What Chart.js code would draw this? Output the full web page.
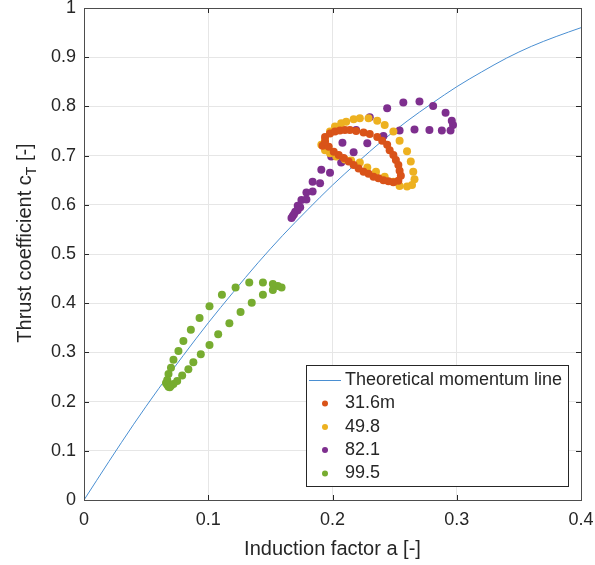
<!DOCTYPE html>
<html>
<head>
<meta charset="utf-8">
<script src="https://cdn.jsdelivr.net/npm/chart.js@4.4.0/dist/chart.umd.min.js"></script>
<style>
  html, body { margin: 0; padding: 0; background: #fff; }
</style>
</head>
<body>
<canvas id="chart" width="595" height="565"></canvas>
<script>
// Theoretical momentum line
const theoryA = [0, 0.02, 0.04, 0.06, 0.08, 0.1, 0.12, 0.14, 0.16, 0.18, 0.2, 0.22, 0.24, 0.26, 0.28, 0.3, 0.32, 0.34, 0.36, 0.38, 0.4];
const theoryCT = [0, 0.078, 0.154, 0.226, 0.294, 0.36, 0.422, 0.482, 0.538, 0.59, 0.64, 0.686, 0.73, 0.77, 0.806, 0.84, 0.87, 0.898, 0.922, 0.942, 0.96];

// 31.6m
const a316 = [0.192, 0.194, 0.198, 0.202, 0.206, 0.210, 0.214, 0.219, 0.225, 0.230, 0.236, 0.240, 0.244, 0.246, 0.249, 0.251, 0.253, 0.254, 0.255, 0.253, 0.249, 0.245, 0.241, 0.237, 0.233, 0.229, 0.225, 0.221, 0.217, 0.213, 0.209, 0.205, 0.201, 0.197, 0.194];
const ct316 = [0.720, 0.738, 0.745, 0.749, 0.751, 0.752, 0.752, 0.750, 0.747, 0.744, 0.738, 0.730, 0.722, 0.711, 0.701, 0.691, 0.681, 0.669, 0.659, 0.649, 0.646, 0.648, 0.650, 0.654, 0.657, 0.663, 0.667, 0.674, 0.681, 0.688, 0.695, 0.701, 0.708, 0.718, 0.728];

// 49.8
const a498 = [0.194, 0.198, 0.202, 0.207, 0.211, 0.217, 0.222, 0.229, 0.236, 0.242, 0.249, 0.254, 0.260, 0.263, 0.265, 0.266, 0.264, 0.260, 0.254, 0.249, 0.242, 0.235, 0.228, 0.222, 0.215, 0.210, 0.203, 0.198, 0.194, 0.191];
const ct498 = [0.732, 0.749, 0.759, 0.766, 0.769, 0.774, 0.776, 0.776, 0.771, 0.762, 0.749, 0.730, 0.709, 0.688, 0.667, 0.652, 0.640, 0.637, 0.638, 0.647, 0.657, 0.667, 0.676, 0.686, 0.690, 0.692, 0.698, 0.705, 0.711, 0.722];

// 82.1
const a821 = [0.244, 0.257, 0.270, 0.281, 0.291, 0.296, 0.297, 0.295, 0.288, 0.278, 0.266, 0.254, 0.241, 0.230, 0.219, 0.228, 0.208, 0.217, 0.199, 0.207, 0.191, 0.198, 0.184, 0.190, 0.179, 0.184, 0.175, 0.179, 0.172, 0.174, 0.170, 0.172, 0.168, 0.169, 0.167];
const ct821 = [0.796, 0.808, 0.810, 0.801, 0.787, 0.771, 0.762, 0.751, 0.751, 0.752, 0.753, 0.751, 0.740, 0.778, 0.752, 0.725, 0.726, 0.707, 0.698, 0.686, 0.671, 0.665, 0.647, 0.644, 0.625, 0.627, 0.610, 0.611, 0.598, 0.595, 0.586, 0.589, 0.577, 0.581, 0.573];

// 99.5
const a995 = [0.159, 0.156, 0.152, 0.144, 0.133, 0.122, 0.111, 0.101, 0.093, 0.086, 0.080, 0.076, 0.072, 0.070, 0.068, 0.067, 0.067,
              0.152, 0.144, 0.135, 0.126, 0.117, 0.108, 0.101, 0.094, 0.088, 0.084, 0.079, 0.075, 0.072, 0.070, 0.068, 0.066, 0.069];
const ct995 = [0.432, 0.435, 0.439, 0.442, 0.442, 0.432, 0.417, 0.394, 0.370, 0.346, 0.323, 0.303, 0.285, 0.269, 0.256, 0.244, 0.234,
               0.427, 0.417, 0.401, 0.382, 0.359, 0.337, 0.315, 0.296, 0.280, 0.266, 0.253, 0.242, 0.236, 0.232, 0.230, 0.238, 0.229];

const seriesNames = ['Theoretical momentum line', '31.6m', '49.8', '82.1', '99.5'];
const xTickValues = [0, 0.1, 0.2, 0.3, 0.4];
const yTickValues = [0, 0.1, 0.2, 0.3, 0.4, 0.5, 0.6, 0.7, 0.8, 0.9, 1];

const FONT = '"Liberation Sans", Arial, sans-serif';
const TEXT = '#262626';

const toPoints = (xs, ys) => xs.map((x, i) => ({ x: x, y: ys[i] }));
const fmt = v => String(Math.round(v * 10) / 10);

// box, inward ticks, axis titles and the legend (matlab look)
const matlabFrame = {
    id: 'matlabFrame',
    afterDraw(chart) {
        const ctx = chart.ctx;
        const area = chart.chartArea;
        const xs = chart.scales.x;
        const ys = chart.scales.y;
        ctx.save();

        // inward tick marks on all four sides
        ctx.strokeStyle = '#262626';
        ctx.lineWidth = 1;
        ctx.beginPath();
        xTickValues.forEach(v => {
            const px = Math.round(xs.getPixelForValue(v)) + 0.5;
            ctx.moveTo(px, area.bottom); ctx.lineTo(px, area.bottom - 5);
            ctx.moveTo(px, area.top); ctx.lineTo(px, area.top + 5);
        });
        yTickValues.forEach(v => {
            const py = Math.round(ys.getPixelForValue(v)) + 0.5;
            ctx.moveTo(area.left, py); ctx.lineTo(area.left + 5, py);
            ctx.moveTo(area.right, py); ctx.lineTo(area.right - 5, py);
        });
        ctx.stroke();

        ctx.strokeStyle = '#4d4d4d';
        ctx.strokeRect(Math.round(area.left) + 0.5, Math.round(area.top) + 0.5,
            Math.round(area.right - area.left), Math.round(area.bottom - area.top));

        // x title
        ctx.fillStyle = TEXT;
        ctx.font = '20px ' + FONT;
        ctx.textAlign = 'center';
        ctx.textBaseline = 'middle';
        ctx.fillText('Induction factor a [-]', (area.left + area.right) / 2, 549);

        // y title with subscript T
        ctx.translate(25, 243);
        ctx.rotate(-Math.PI / 2);
        ctx.textAlign = 'left';
        ctx.textBaseline = 'middle';
        const p1 = 'Thrust coefficient c';
        const p3 = ' [-]';
        ctx.font = '20px ' + FONT;
        const w1 = ctx.measureText(p1).width;
        const w3 = ctx.measureText(p3).width;
        ctx.font = '14px ' + FONT;
        const w2 = ctx.measureText('T').width;
        let x0 = -(w1 + w2 + w3) / 2;
        ctx.font = '20px ' + FONT;
        ctx.fillText(p1, x0, 0);
        ctx.font = '14px ' + FONT;
        ctx.fillText('T', x0 + w1, 7);
        ctx.font = '20px ' + FONT;
        ctx.fillText(p3, x0 + w1 + w2, 0);
        ctx.setTransform(1, 0, 0, 1, 0, 0);

        // legend
        const lx = 306.5, ly = 365.5, lw = 262, lh = 121;
        ctx.fillStyle = '#fff';
        ctx.fillRect(lx, ly, lw, lh);
        ctx.strokeStyle = '#262626';
        ctx.strokeRect(lx, ly, lw, lh);
        const rowY = [380, 403.5, 427, 450, 473.5];
        chart.data.datasets.forEach((ds, i) => {
            const y = rowY[i];
            if (ds.type === 'line') {
                ctx.strokeStyle = ds.borderColor;
                ctx.lineWidth = 1;
                ctx.beginPath();
                ctx.moveTo(309, y + 0.5);
                ctx.lineTo(341, y + 0.5);
                ctx.stroke();
            } else {
                ctx.fillStyle = ds.backgroundColor;
                ctx.beginPath();
                ctx.arc(325, y, 3, 0, Math.PI * 2);
                ctx.fill();
            }
            ctx.fillStyle = TEXT;
            ctx.font = '18px ' + FONT;
            ctx.textAlign = 'left';
            ctx.textBaseline = 'middle';
            ctx.fillText(ds.label, 345, y);
        });
        ctx.restore();
    }
};

document.addEventListener('DOMContentLoaded', () => {
    const scatterSet = (label, xs, ys, color) => ({
        type: 'scatter',
        label: label,
        data: toPoints(xs, ys),
        backgroundColor: color,
        borderWidth: 0,
        pointRadius: 4,
        pointHoverRadius: 4
    });

    new Chart(document.getElementById('chart').getContext('2d'), {
        type: 'scatter',
        data: {
            datasets: [
                {
                    type: 'line',
                    label: seriesNames[0],
                    data: toPoints(theoryA, theoryCT),
                    borderColor: '#4a8fd2',
                    borderWidth: 1,
                    pointRadius: 0,
                    fill: false,
                    cubicInterpolationMode: 'monotone',
                    order: 5
                },
                scatterSet(seriesNames[1], a316, ct316, '#D95319'),
                scatterSet(seriesNames[2], a498, ct498, '#EDB120'),
                scatterSet(seriesNames[3], a821, ct821, '#7E2F8E'),
                scatterSet(seriesNames[4], a995, ct995, '#77AC30')
            ]
        },
        options: {
            responsive: false,
            animation: false,
            layout: { padding: { left: 0, right: 14, top: 8, bottom: 0 } },
            plugins: {
                legend: { display: false },
                tooltip: { enabled: false }
            },
            scales: {
                x: {
                    type: 'linear',
                    min: 0,
                    max: 0.4,
                    afterBuildTicks: s => { s.ticks = xTickValues.map(v => ({ value: v })); },
                    afterFit: s => { s.height = 65; s.paddingLeft = 0; s.paddingRight = 0; },
                    grid: { color: '#e6e6e6', drawTicks: false },
                    border: { display: false },
                    ticks: {
                        color: TEXT,
                        font: { family: FONT, size: 18 },
                        padding: 9,
                        maxRotation: 0,
                        callback: v => fmt(v)
                    }
                },
                y: {
                    type: 'linear',
                    min: 0,
                    max: 1,
                    afterBuildTicks: s => { s.ticks = yTickValues.map(v => ({ value: v })); },
                    afterFit: s => { s.width = 84; s.paddingTop = 0; s.paddingBottom = 0; },
                    grid: { color: '#e6e6e6', drawTicks: false },
                    border: { display: false },
                    ticks: {
                        color: TEXT,
                        font: { family: FONT, size: 18 },
                        padding: 8,
                        callback: v => fmt(v)
                    }
                }
            }
        },
        plugins: [matlabFrame]
    });
});
</script>
</body>
</html>
